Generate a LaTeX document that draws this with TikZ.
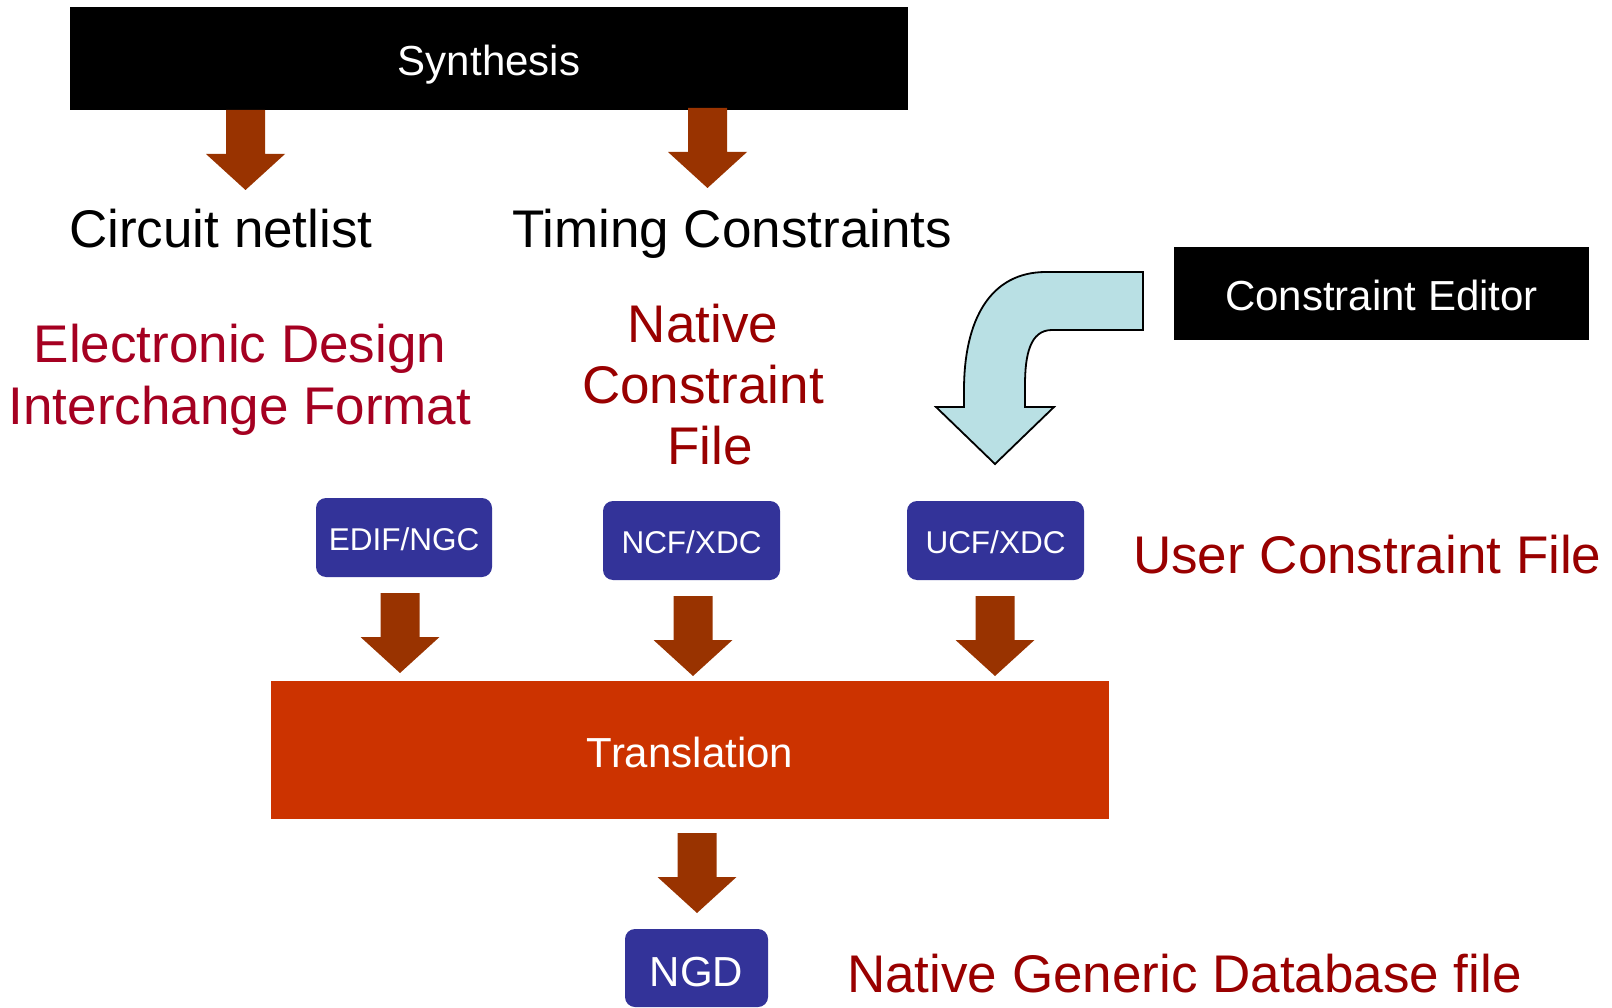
\documentclass[tikz,border=0pt]{standalone}
\usepackage{fontspec}
\setmainfont{Liberation Sans}
\definecolor{arrowbrown}{HTML}{993300}
\definecolor{transred}{HTML}{CC3300}
\definecolor{fileblue}{HTML}{333399}
\definecolor{edifred}{HTML}{A50021}
\definecolor{darkred}{HTML}{990000}
\definecolor{iceblue}{RGB}{185,224,228}
\begin{document}
\begin{tikzpicture}[x=1pt,y=-1pt,
  stagebox/.style={fill=black,text=white,inner sep=0pt,
    font=\fontsize{42}{50}\selectfont,text height=34pt,text depth=0pt},
  filebox/.style={fill=fileblue,text=white,rounded corners=10pt,inner sep=0pt,
    minimum width=177pt,minimum height=79pt,
    font=\fontsize{31.5}{38}\selectfont,text height=25pt,text depth=0pt},
  bigtext/.style={inner sep=0pt,font=\fontsize{53}{62}\selectfont},
  downarrow/.pic={\fill[arrowbrown] (-19.5,0) -- (19.5,0) -- (19.5,44) -- (39.5,44)
    -- (0,80) -- (-39.5,44) -- (-19.5,44) -- cycle;}]
% canvas
\fill[white] (0,0) rectangle (1612,1008);
\useasboundingbox (0,0) rectangle (1612,1008);

% tool stages
\node[stagebox,minimum width=838pt,minimum height=103pt] (synth) at (489,58.5) {Synthesis};
\node[stagebox,minimum width=415pt,minimum height=93pt] (editor) at (1381.5,293.5) {Constraint Editor};
\node[stagebox,fill=transred,minimum width=838pt,minimum height=138pt] (trans) at (690,750) {Translation};

% synthesis outputs
\pic at (245.5,110) {downarrow};
\pic at (707.5,108) {downarrow};
\node[bigtext,anchor=base west] (netlist) at (69,248) {Circuit netlist};
\node[bigtext,anchor=base west] (timing) at (512,248) {Timing Constraints};

% file format descriptions
\node[bigtext,text=edifred,align=center,anchor=north] (edifname) at (240,324)
  {Electronic Design\\Interchange Format};
\node[bigtext,text=darkred,align=center,anchor=north,
  font=\fontsize{53}{61}\selectfont] (ncfname) at (703,304)
  {Native\\Constraint\\\hspace*{14pt}File};
\node[bigtext,text=darkred,anchor=base west] (ucfname) at (1133,573) {User Constraint File};
\node[bigtext,text=darkred,anchor=base west] (ngdname) at (847,992) {Native Generic Database file};

% bent arrow from the constraint editor
\filldraw[fill=iceblue,draw=black,line width=1.8pt,line join=miter]
  (1143,272) -- (1046,272) .. controls (990,272) and (964,320) .. (964,390)
  -- (964,407) -- (936,407) -- (995,464) -- (1054,407) -- (1025,407)
  -- (1025,385) .. controls (1025,355) and (1030,330) .. (1052,330)
  -- (1143,330) -- cycle;

% files
\node[filebox,minimum width=176pt] (edif) at (404,537.5) {EDIF/NGC};
\node[filebox] (ncf) at (691.5,540.5) {NCF/XDC};
\node[filebox] (ucf) at (995.5,540.5) {UCF/XDC};

% inputs to translation
\pic at (400,593) {downarrow};
\pic at (693,596) {downarrow};
\pic at (995,596) {downarrow};

% translation output
\pic at (697,833) {downarrow};
\node[filebox,minimum width=143pt,minimum height=78pt,
  font=\fontsize{42}{50}\selectfont,text height=36pt] (ngd) at (696.5,968) {NGD};
\end{tikzpicture}
\end{document}
